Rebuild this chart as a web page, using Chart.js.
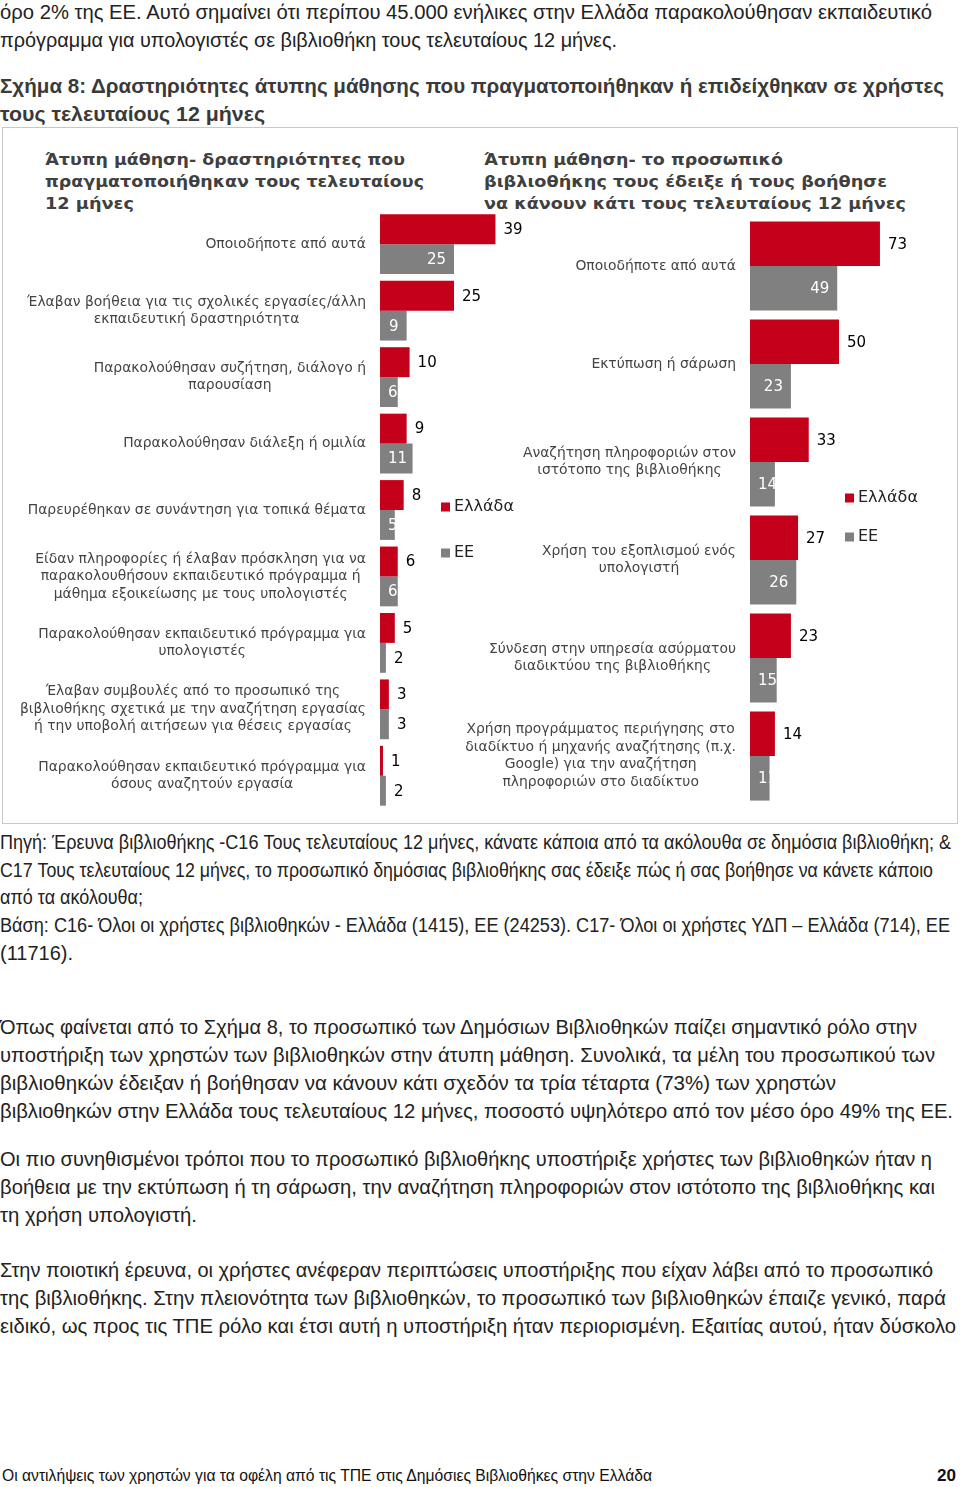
<!DOCTYPE html>
<html>
<head>
<meta charset="utf-8">
<script src="https://cdn.jsdelivr.net/npm/chart.js@4.4.1/dist/chart.umd.min.js"></script>
<style>
html,body{margin:0;padding:0;background:#fff;}
#page{position:relative;width:960px;height:1487px;overflow:hidden;font-family:"Liberation Sans",Arial,sans-serif;color:#222;}
.ln{position:absolute;white-space:nowrap;font-size:20px;line-height:24px;transform-origin:0 50%;}
.b{font-weight:bold;color:#3a3a3a;}
.pt{font-family:"DejaVu Sans",sans-serif;font-weight:bold;font-size:16.5px;line-height:22px;color:#404040;}
.ft{font-size:16px;color:#111;}
#box{position:absolute;left:2px;top:127px;width:954px;height:695px;border:1px solid #c8c8c8;}
canvas{position:absolute;}
</style>
</head>
<body>
<div id="page">
  <div class="ln" style="left:0;top:0" data-r="932">όρο 2% της ΕΕ. Αυτό σημαίνει ότι περίπου 45.000 ενήλικες στην Ελλάδα παρακολούθησαν εκπαιδευτικό</div>
  <div class="ln" style="left:0;top:28px" data-r="617">πρόγραμμα για υπολογιστές σε βιβλιοθήκη τους τελευταίους 12 μήνες.</div>

  <div class="ln b" style="left:0;top:74px" data-r="944">Σχήμα 8: Δραστηριότητες άτυπης μάθησης που πραγματοποιήθηκαν ή επιδείχθηκαν σε χρήστες</div>
  <div class="ln b" style="left:0;top:102px" data-r="265">τους τελευταίους 12 μήνες</div>

  <div id="box"></div>

  <div class="ln pt" style="left:45px;top:149px" data-r="405">Άτυπη μάθηση- δραστηριότητες που</div>
  <div class="ln pt" style="left:45px;top:171px" data-r="424">πραγματοποιήθηκαν τους τελευταίους</div>
  <div class="ln pt" style="left:45px;top:193px" data-r="134">12 μήνες</div>

  <div class="ln pt" style="left:484px;top:149px" data-r="783">Άτυπη μάθηση- το προσωπικό</div>
  <div class="ln pt" style="left:484px;top:171px" data-r="887">βιβλιοθήκης τους έδειξε ή τους βοήθησε</div>
  <div class="ln pt" style="left:484px;top:193px" data-r="906">να κάνουν κάτι τους τελευταίους 12 μήνες</div>

  <canvas id="leftChart" width="560" height="620" style="left:0;top:200px"></canvas>
  <canvas id="rightChart" width="520" height="620" style="left:440px;top:200px"></canvas>

  <div class="ln" style="left:0;top:830px" data-r="951">Πηγή: Έρευνα βιβλιοθήκης -C16 Τους τελευταίους 12 μήνες, κάνατε κάποια από τα ακόλουθα σε δημόσια βιβλιοθήκη; &amp;</div>
  <div class="ln" style="left:0;top:858px" data-r="933">C17 Τους τελευταίους 12 μήνες, το προσωπικό δημόσιας βιβλιοθήκης σας έδειξε πώς ή σας βοήθησε να κάνετε κάποιο</div>
  <div class="ln" style="left:0;top:885px" data-r="143">από τα ακόλουθα;</div>
  <div class="ln" style="left:0;top:913px" data-r="950">Βάση: C16- Όλοι οι χρήστες βιβλιοθηκών - Ελλάδα (1415), ΕΕ (24253). C17- Όλοι οι χρήστες ΥΔΠ – Ελλάδα (714), ΕΕ</div>
  <div class="ln" style="left:0;top:941px" data-r="73">(11716).</div>

  <div class="ln" style="left:0;top:1015px" data-r="917">Όπως φαίνεται από το Σχήμα 8, το προσωπικό των Δημόσιων Βιβλιοθηκών παίζει σημαντικό ρόλο στην</div>
  <div class="ln" style="left:0;top:1043px" data-r="935">υποστήριξη των χρηστών των βιβλιοθηκών στην άτυπη μάθηση. Συνολικά, τα μέλη του προσωπικού των</div>
  <div class="ln" style="left:0;top:1071px" data-r="836">βιβλιοθηκών έδειξαν ή βοήθησαν να κάνουν κάτι σχεδόν τα τρία τέταρτα (73%) των χρηστών</div>
  <div class="ln" style="left:0;top:1099px" data-r="953">βιβλιοθηκών στην Ελλάδα τους τελευταίους 12 μήνες, ποσοστό υψηλότερο από τον μέσο όρο 49% της ΕΕ.</div>

  <div class="ln" style="left:0;top:1147px" data-r="932">Οι πιο συνηθισμένοι τρόποι που το προσωπικό βιβλιοθήκης υποστήριξε χρήστες των βιβλιοθηκών ήταν η</div>
  <div class="ln" style="left:0;top:1175px" data-r="935">βοήθεια με την εκτύπωση ή τη σάρωση, την αναζήτηση πληροφοριών στον ιστότοπο της βιβλιοθήκης και</div>
  <div class="ln" style="left:0;top:1203px" data-r="197">τη χρήση υπολογιστή.</div>

  <div class="ln" style="left:0;top:1258px" data-r="933">Στην ποιοτική έρευνα, οι χρήστες ανέφεραν περιπτώσεις υποστήριξης που είχαν λάβει από το προσωπικό</div>
  <div class="ln" style="left:0;top:1286px" data-r="946">της βιβλιοθήκης. Στην πλειονότητα των βιβλιοθηκών, το προσωπικό των βιβλιοθηκών έπαιζε γενικό, παρά</div>
  <div class="ln" style="left:0;top:1314px" data-r="956">ειδικό, ως προς τις ΤΠΕ ρόλο και έτσι αυτή η υποστήριξη ήταν περιορισμένη. Εξαιτίας αυτού, ήταν δύσκολο</div>

  <div class="ln ft" style="left:2px;top:1464px" data-r="652">Οι αντιλήψεις των χρηστών για τα οφέλη από τις ΤΠΕ στις Δημόσιες Βιβλιοθήκες στην Ελλάδα</div>
  <div class="ln ft" style="left:937px;top:1464px;font-weight:bold;font-size:17px" data-r="956">20</div>
</div>

<script>
// C16 - activities done in the library
const leftCategories = [
  ['Οποιοδήποτε από αυτά'],
  ['Έλαβαν βοήθεια για τις σχολικές εργασίες/άλλη', 'εκπαιδευτική δραστηριότητα'],
  ['Παρακολούθησαν συζήτηση, διάλογο ή', 'παρουσίαση'],
  ['Παρακολούθησαν διάλεξη ή ομιλία'],
  ['Παρευρέθηκαν σε συνάντηση για τοπικά θέματα'],
  ['Είδαν πληροφορίες ή έλαβαν πρόσκληση για να', 'παρακολουθήσουν εκπαιδευτικό πρόγραμμα ή', 'μάθημα εξοικείωσης με τους υπολογιστές'],
  ['Παρακολούθησαν εκπαιδευτικό πρόγραμμα για', 'υπολογιστές'],
  ['Έλαβαν συμβουλές από το προσωπικό της', 'βιβλιοθήκης σχετικά με την αναζήτηση εργασίας', 'ή την υποβολή αιτήσεων για θέσεις εργασίας'],
  ['Παρακολούθησαν εκπαιδευτικό πρόγραμμα για', 'όσους αναζητούν εργασία']
];
const leftGreece = [39, 25, 10, 9, 8, 6, 5, 3, 1];
const leftEU = [25, 9, 6, 11, 5, 6, 2, 3, 2];

// C17 - staff showed or helped
const rightCategories = [
  ['Οποιοδήποτε από αυτά'],
  ['Εκτύπωση ή σάρωση'],
  ['Αναζήτηση πληροφοριών στον', 'ιστότοπο της βιβλιοθήκης'],
  ['Χρήση του εξοπλισμού ενός', 'υπολογιστή'],
  ['Σύνδεση στην υπηρεσία ασύρματου', 'διαδικτύου της βιβλιοθήκης'],
  ['Χρήση προγράμματος περιήγησης στο', 'διαδίκτυο ή μηχανής αναζήτησης (π.χ.', 'Google) για την αναζήτηση', 'πληροφοριών στο διαδίκτυο']
];
const rightGreece = [73, 50, 33, 27, 23, 14];
const rightEU = [49, 23, 14, 26, 15, 11];

const seriesNames = ['Ελλάδα', 'ΕΕ'];
const RED = '#c4001a';
const GREY = '#808080';

// category labels, value labels and legend
const decor = {
  id: 'decor',
  afterDatasetsDraw(chart, args, o) {
    const ctx = chart.ctx;
    const ys = chart.scales.y;
    ctx.save();
    ctx.textBaseline = 'middle';

    ctx.font = '13.9px "DejaVu Sans"';
    ctx.fillStyle = '#444';
    ctx.textAlign = 'center';
    chart.data.labels.forEach((lines, i) => {
      const cy = ys.getPixelForValue(i);
      const w = Math.max(...lines.map(l => ctx.measureText(l).width));
      const cx = o.labelRight - w / 2;
      lines.forEach((l, k) => ctx.fillText(l, cx, cy + (k - (lines.length - 1) / 2) * 17.5));
    });

    ctx.font = '15px "DejaVu Sans"';
    ctx.textAlign = 'left';
    chart.data.datasets.forEach((ds, di) => {
      chart.getDatasetMeta(di).data.forEach((bar, i) => {
        const v = ds.data[i];
        const t = String(v);
        const tw = ctx.measureText(t).width;
        if (di === 0 || v <= 3) {
          ctx.fillStyle = '#000';
          ctx.fillText(t, bar.x + 8, bar.y + 1);
        } else {
          ctx.fillStyle = '#fff';
          ctx.fillText(t, Math.max(bar.base + 8, bar.x - 8 - tw), bar.y + 1);
        }
      });
    });

    ctx.font = '16px "DejaVu Sans"';
    chart.data.datasets.forEach((ds, di) => {
      const ly = o.legendY[di];
      ctx.fillStyle = ds.backgroundColor;
      ctx.fillRect(o.legendX, ly - 4.5, 9, 9);
      ctx.fillStyle = '#222';
      ctx.fillText(ds.label, o.legendX + 13, ly);
    });
    ctx.restore();
  }
};

function makeChart(id, labels, gr, eu, max, padding, catPct, decorOpts) {
  return new Chart(document.getElementById(id), {
    type: 'bar',
    data: {
      labels: labels,
      datasets: [
        { label: seriesNames[0], data: gr, backgroundColor: RED },
        { label: seriesNames[1], data: eu, backgroundColor: GREY }
      ]
    },
    options: {
      indexAxis: 'y',
      responsive: false,
      animation: false,
      layout: { padding: padding },
      datasets: { bar: { categoryPercentage: catPct, barPercentage: 1 } },
      scales: {
        x: { display: false, min: 0, max: max },
        y: { display: false }
      },
      plugins: {
        legend: { display: false },
        tooltip: { enabled: false },
        decor: decorOpts
      }
    },
    plugins: [decor]
  });
}

function fitLines() {
  document.querySelectorAll('.ln').forEach(el => {
    const left = parseFloat(el.style.left) || 0;
    const target = parseFloat(el.dataset.r) - left;
    const w = el.getBoundingClientRect().width;
    if (w > 0) el.style.transform = 'scaleX(' + (target / w) + ')';
  });
}

document.fonts.ready.then(() => {
  fitLines();
  makeChart('leftChart', leftCategories, leftGreece, leftEU, 50,
    { left: 380, right: 32, top: 11, bottom: 11 }, 0.9,
    { labelRight: 366, legendX: 441, legendY: [307, 353] });
  makeChart('rightChart', rightCategories, rightGreece, rightEU, 100,
    { left: 310, right: 32, top: 17, bottom: 15 }, 0.91,
    { labelRight: 296, legendX: 405, legendY: [298, 337] });
});
</script>
</body>
</html>
